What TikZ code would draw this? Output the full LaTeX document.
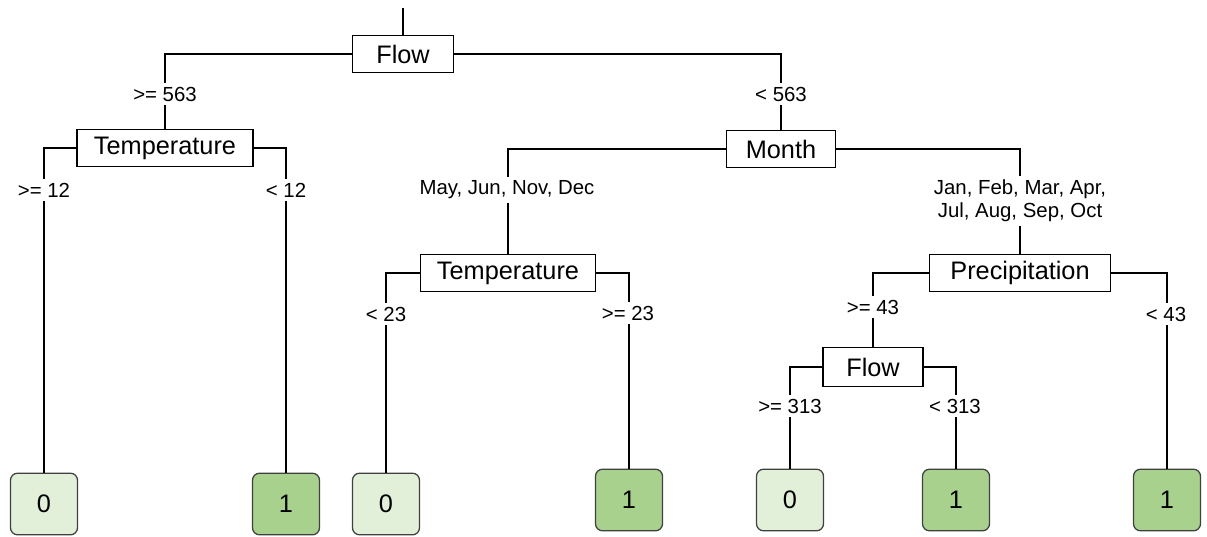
\documentclass[tikz,border=0pt]{standalone}
\usepackage{fontspec}
\setmainfont{Liberation Sans}
\definecolor{leafno}{HTML}{E2F0D9}
\definecolor{leafyes}{HTML}{A9D18E}
\begin{document}
\begin{tikzpicture}[x=0.025cm,y=-0.025cm,line cap=round,
  split/.style={draw,line width=0.8pt,fill=white,inner sep=0pt,minimum height=0.94cm,font=\fontsize{18}{20}\selectfont},
  leaf/.style={draw=black!75,line width=0.9pt,rounded corners=5pt,inner sep=0pt,minimum width=1.675cm,minimum height=1.54cm,font=\fontsize{18}{20}\selectfont},
  cond/.style={fill=white,inner sep=3pt,font=\fontsize{14.5}{16.5}\selectfont,align=center},
  edge/.style={line width=1.9pt,line cap=butt}]
\useasboundingbox (0,0) rectangle (1207,537);
\node[split,minimum width=2.525cm] (flowA) at (403,54) {Flow};
\node[split,minimum width=4.4cm] (tempA) at (165,148) {Temperature};
\node[split,minimum width=2.725cm] (month) at (781,149) {Month};
\node[split,minimum width=4.375cm] (tempB) at (508,273) {Temperature};
\node[split,minimum width=4.525cm] (prec) at (1020,273) {Precipitation};
\node[split,minimum width=2.5cm,minimum height=0.975cm] (flowB) at (873,367) {Flow};
\node[leaf,fill=leafno] (leafA) at (44,504) {0};
\node[leaf,fill=leafyes] (leafB) at (286,504) {1};
\node[leaf,fill=leafno] (leafC) at (386,504) {0};
\node[leaf,fill=leafyes] (leafD) at (629,500) {1};
\node[leaf,fill=leafno] (leafE) at (790,500) {0};
\node[leaf,fill=leafyes] (leafF) at (956,500) {1};
\node[leaf,fill=leafyes] (leafG) at (1167,500) {1};
\coordinate (stem) at (403,8);
\draw[edge] (stem) -- (flowA.north);
\draw[edge] (flowA.west) -| (tempA.north);
\draw[edge] (flowA.east) -| (month.north);
\draw[edge] (tempA.west) -| (leafA.north);
\draw[edge] (tempA.east) -| (leafB.north);
\draw[edge] (month.west) -| (tempB.north);
\draw[edge] (month.east) -| (prec.north);
\draw[edge] (tempB.west) -| (leafC.north);
\draw[edge] (tempB.east) -| (leafD.north);
\draw[edge] (prec.west) -| (flowB.north);
\draw[edge] (prec.east) -| (leafG.north);
\draw[edge] (flowB.west) -| (leafE.north);
\draw[edge] (flowB.east) -| (leafF.north);
\node[cond] (cA) at (165,94) {>= 563};
\node[cond] (cB) at (781,94) {< 563};
\node[cond] (cC) at (44,190) {>= 12};
\node[cond] (cD) at (286,190) {< 12};
\node[cond] (cE) at (507,190) {May, Jun, Nov, Dec};
\node[cond] (cF) at (1020,201) {Jan, Feb, Mar, Apr,\\Jul, Aug, Sep, Oct};
\node[cond] (cG) at (386,314) {< 23};
\node[cond] (cH) at (628,313) {>= 23};
\node[cond] (cI) at (873,307) {>= 43};
\node[cond] (cJ) at (1166,314) {< 43};
\node[cond] (cK) at (790,406) {>= 313};
\node[cond] (cL) at (955,406) {< 313};
\end{tikzpicture}
\end{document}
